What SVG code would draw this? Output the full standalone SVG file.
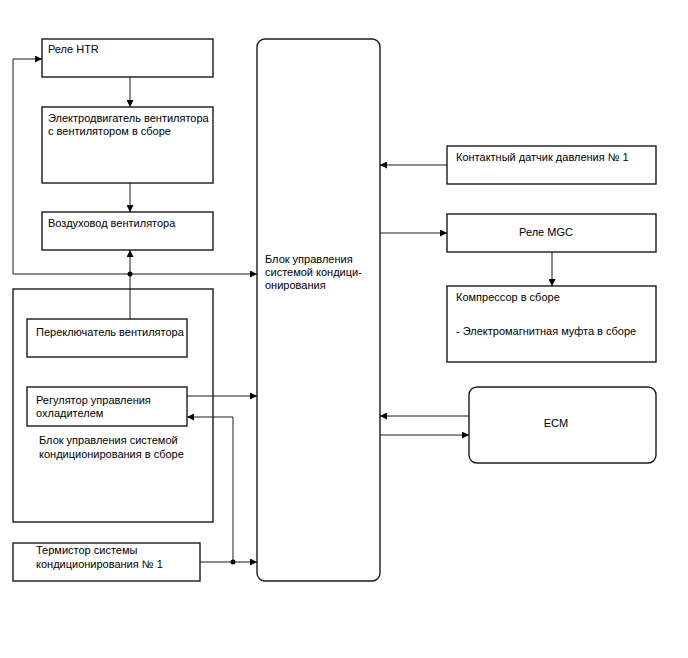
<svg xmlns="http://www.w3.org/2000/svg" width="688" height="658" viewBox="0 0 688 658">
<style>
.box{fill:#fff;stroke:#1a1a1a;stroke-width:1.4}
.t{font-family:"Liberation Sans",Arial,sans-serif;font-size:11px;fill:#000}
.c{fill:none;stroke:#1a1a1a;stroke-width:1}
</style>
<defs>
<marker id="ah" viewBox="0 0 10 10" refX="10" refY="5" markerWidth="9" markerHeight="7" markerUnits="userSpaceOnUse" orient="auto">
<path d="M0,0 L10,5 L0,10 z" fill="#000"/>
</marker>
</defs>
<rect width="688" height="658" fill="#fff"/>
<g id="htr-relay">
<rect class="box" x="42" y="39" width="171" height="38"/>
<text class="t" x="48" y="53">Реле HTR</text>
</g>
<g id="blower-motor">
<rect class="box" x="42" y="107" width="171" height="76"/>
<text class="t" x="48" y="122">Электродвигатель вентилятора</text>
<text class="t" x="48" y="135">с вентилятором в сборе</text>
</g>
<g id="air-duct">
<rect class="box" x="42" y="212" width="171" height="38"/>
<text class="t" x="48" y="227">Воздуховод вентилятора</text>
</g>
<g id="ac-control-assembly">
<rect class="box" x="13" y="289" width="200" height="233"/>
<text class="t" x="39" y="444">Блок управления системой</text>
<text class="t" x="39" y="458">кондиционирования в сборе</text>
</g>
<g id="blower-switch">
<rect class="box" x="27" y="319" width="160" height="38"/>
<text class="t" x="36" y="336">Переключатель вентилятора</text>
</g>
<g id="cooler-regulator">
<rect class="box" x="27" y="387" width="160" height="39"/>
<text class="t" x="36" y="404">Регулятор управления</text>
<text class="t" x="36" y="417">охладителем</text>
</g>
<g id="thermistor">
<rect class="box" x="13" y="543" width="187" height="38"/>
<text class="t" x="36" y="554">Термистор системы</text>
<text class="t" x="36" y="568">кондиционирования № 1</text>
</g>
<g id="ac-ecu">
<rect class="box" x="257" y="39" width="123" height="542" rx="8"/>
<text class="t" x="265" y="263">Блок управления</text>
<text class="t" x="265" y="276">системой кондици-</text>
<text class="t" x="265" y="289">онирования</text>
</g>
<g id="pressure-switch">
<rect class="box" x="447" y="146" width="209" height="38"/>
<text class="t" x="456" y="161">Контактный датчик давления № 1</text>
</g>
<g id="mgc-relay">
<rect class="box" x="447" y="214" width="209" height="38"/>
<text class="t" x="546" y="236" text-anchor="middle">Реле MGC</text>
</g>
<g id="compressor">
<rect class="box" x="447" y="286" width="209" height="76"/>
<text class="t" x="456" y="301">Компрессор в сборе</text>
<text class="t" x="456" y="335">- Электромагнитная муфта в сборе</text>
</g>
<g id="ecm">
<rect class="box" x="469" y="387" width="187" height="76" rx="8"/>
<text class="t" x="556" y="427" text-anchor="middle">ECM</text>
</g>
<g id="connectors">
<line class="c" x1="130" y1="77" x2="130" y2="107" marker-end="url(#ah)"/>
<line class="c" x1="130" y1="183" x2="130" y2="212" marker-end="url(#ah)"/>
<line class="c" x1="130" y1="319" x2="130" y2="250" marker-end="url(#ah)"/>
<polyline class="c" points="130,274 13,274 13,59 42,59" marker-end="url(#ah)"/>
<line class="c" x1="130" y1="274" x2="257" y2="274" marker-end="url(#ah)"/>
<circle cx="130" cy="274" r="2.5" fill="#000"/>
<line class="c" x1="187" y1="396" x2="257" y2="396" marker-end="url(#ah)"/>
<polyline class="c" points="233,562 233,417 187,417" marker-end="url(#ah)"/>
<line class="c" x1="200" y1="562" x2="257" y2="562" marker-end="url(#ah)"/>
<circle cx="233" cy="562" r="2.5" fill="#000"/>
<line class="c" x1="447" y1="165" x2="380" y2="165" marker-end="url(#ah)"/>
<line class="c" x1="380" y1="233" x2="447" y2="233" marker-end="url(#ah)"/>
<line class="c" x1="552" y1="252" x2="552" y2="286" marker-end="url(#ah)"/>
<line class="c" x1="469" y1="416" x2="380" y2="416" marker-end="url(#ah)"/>
<line class="c" x1="380" y1="435" x2="469" y2="435" marker-end="url(#ah)"/>
</g>
</svg>
